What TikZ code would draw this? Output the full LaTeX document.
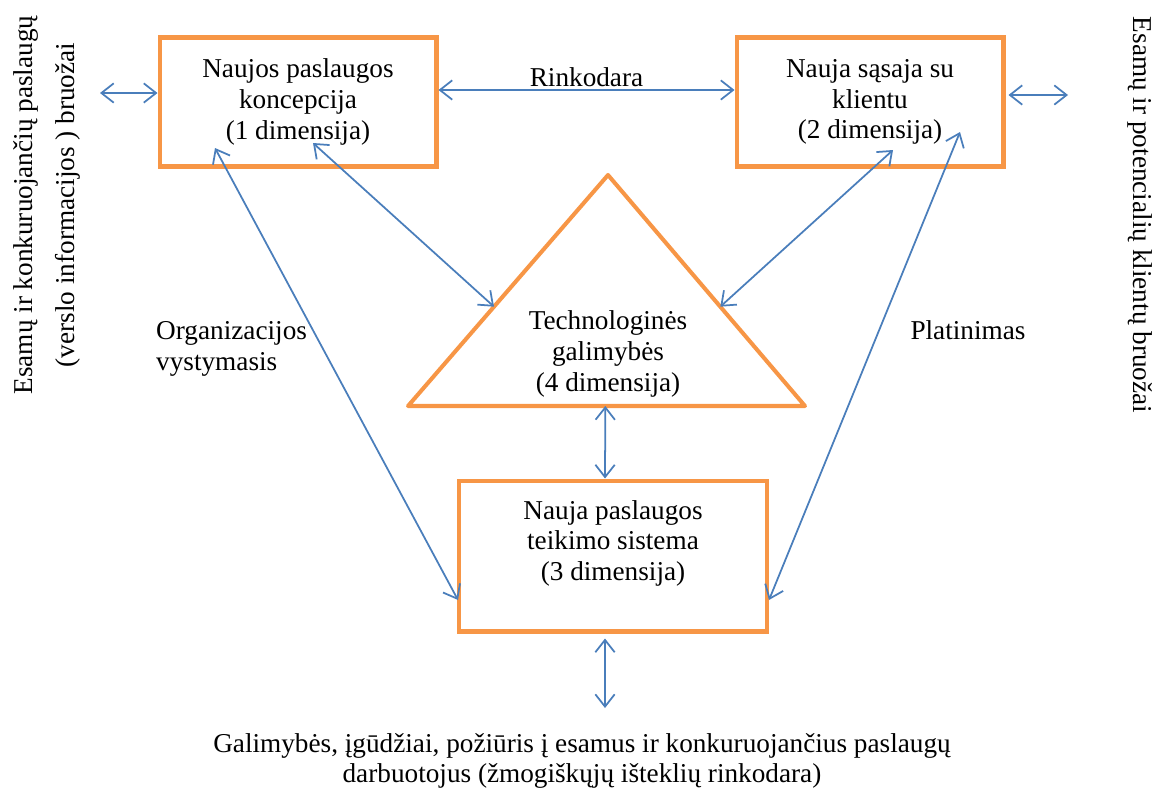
\documentclass[tikz,border=0pt]{standalone}
\usepackage{fontspec}
\setmainfont{Liberation Serif}
\usetikzlibrary{arrows.meta,calc}
\definecolor{boxorange}{HTML}{F79646}
\definecolor{linkblue}{HTML}{4A7EBB}

\begin{document}
\begin{tikzpicture}[x=0.02cm, y=0.02cm,
  every node/.style={font=\fontsize{15.5}{17.5}\selectfont, text=black},
  dimbox/.style={draw=boxorange, line width=2.3pt, align=center, inner sep=0pt},
  link/.style={linkblue, line width=1pt,
    {Straight Barb[length=7pt,width=11pt]}-{Straight Barb[length=7pt,width=11pt]}}]
  \useasboundingbox (0,0) rectangle (1162,-789);

  % Dimension boxes
  \node[dimbox, minimum width=5.54cm, minimum height=2.58cm] (dim1) at (298,-102)
    {Naujos paslaugos\\koncepcija\\(1 dimensija)};
  \node[dimbox, minimum width=5.34cm, minimum height=2.58cm] (dim2) at (870,-102)
    {Nauja sąsaja su\\klientu\\(2 dimensija)};
  \node[dimbox, minimum width=6.16cm, minimum height=3.02cm] (dim3) at (613,-556)
    {Nauja paslaugos\\teikimo sistema\\(3 dimensija)\\[-5pt]\strut};

  % Technology triangle
  \coordinate (triTop) at (608,-175);
  \coordinate (triLeft) at (408,-406);
  \coordinate (triRight) at (805,-406);
  \draw[boxorange, line width=2.3pt, line join=round] (triTop) -- (triLeft) -- (triRight) -- cycle;
  \node[align=center] (dim4) at (608,-354) {Technologinės\\galimybės\\(4 dimensija)};

  % Outer influences
  \node[rotate=90, align=center] (infoL) at (47,-205)
    {Esamų ir konkuruojančių paslaugų\\[6pt](verslo informacijos ) bruožai};
  \node[rotate=-90] (infoR) at (1140,-215) {Esamų ir potencialių klientų bruožai};
  \node[align=center] (staff) at (582,-761)
    {Galimybės, įgūdžiai, požiūris į esamus ir konkuruojančius paslaugų\\darbuotojus (žmogiškųjų išteklių rinkodara)};
  \coordinate (leftEnd) at (100,-93);
  \coordinate (rightEnd) at (1068,-95);
  \coordinate (staffEnd) at (605,-708);

  % Connectors
  \draw[link] (leftEnd) -- ($(dim1.west)+(0,9)$);
  \draw[link] ($(dim1.east)+(0,12)$) -- node[above=-2pt] (rinkodara) {Rinkodara} ($(dim2.west)+(0,12)$);
  \draw[link] ($(dim2.east)+(3,7)$) -- (rightEnd);
  \draw[link] ($(dim1.center)+(15,-41)$) -- ($(triTop)!0.57!(triLeft)$);
  \draw[link] ($(dim2.center)+(23,-48)$) -- ($(triTop)!0.57!(triRight)$);
  \draw[link] ($(dim1.center)+(-83,-46)$) -- ($(dim3.west)+(1,-44)$);
  \draw[link] ($(dim2.center)+(90,-30)$) -- ($(dim3.east)+(0,-44)$);
  \draw[link] ($(triLeft)!0.497!(triRight)$) -- ($(dim3.north)+(-8,0)$);
  \draw[link] ($(dim3.south)+(-8,-5)$) -- (staffEnd);

  % Flow labels
  \node[align=left, anchor=west] (orgdev) at (150,-349) {Organizacijos\\vystymasis};
  \node (distrib) at (968,-330) {Platinimas};
\end{tikzpicture}
\end{document}
